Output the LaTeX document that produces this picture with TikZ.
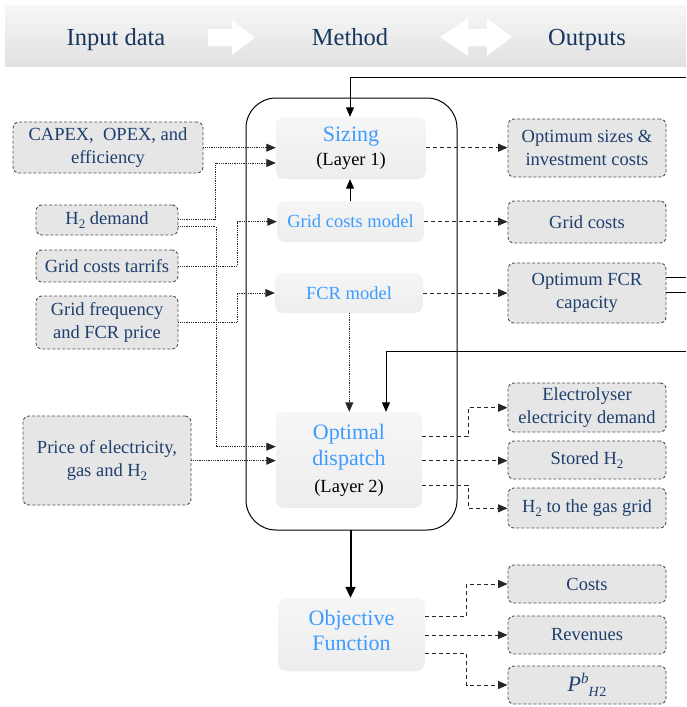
\documentclass[tikz,border=0pt]{standalone}
\usepackage{fontspec}
\setmainfont{Liberation Serif}
\usetikzlibrary{arrows.meta}
\definecolor{navy}{HTML}{1F3F6E}
\definecolor{hdnavy}{HTML}{17375E}
\definecolor{mblue}{HTML}{3C9CFF}
\definecolor{boxfill}{HTML}{E6E6E6}
\definecolor{boxline}{HTML}{505050}
\definecolor{mtop}{HTML}{F6F6F6}
\definecolor{mbot}{HTML}{EDEDED}
\definecolor{hdtop}{HTML}{F7F7F7}
\definecolor{hdbot}{HTML}{E1E1E1}
\newcommand{\hydro}{H\raisebox{-4.5pt}{\fontsize{13}{13}\selectfont 2}}
\tikzset{
  databox/.style={draw=boxline, dash pattern=on 3pt off 2pt, line width=0.9pt,
    fill=boxfill, rounded corners=6pt, text=navy, align=center, inner sep=0pt,
    font=\fontsize{18.5}{23}\selectfont},
  methbox/.style={top color=mtop, bottom color=mbot, rounded corners=8pt,
    align=center, inner sep=0pt, text=mblue},
  midfont/.style={font=\fontsize{18.5}{23}\selectfont},
  hdtext/.style={text=hdnavy, font=\fontsize{24.5}{28}\selectfont, anchor=base},
  tip/.style={-{Triangle[length=9.5pt,width=8pt]}},
  inconn/.style={tip, line width=0.9pt, black!85, dash pattern=on 0.9pt off 0.9pt},
  outconn/.style={tip, line width=1pt, black!85, dash pattern=on 4pt off 3pt},
  solidconn/.style={tip, line width=1pt, black},
}
\begin{document}
\begin{tikzpicture}[x=1pt,y=-1pt]
\useasboundingbox (0,0) rectangle (686,707);
% header
\shade[top color=hdtop, bottom color=hdbot] (5,5) rectangle (686,66);
\fill[white] (208,29) -- (232,29) -- (232,20) -- (255,37.5) -- (232,55) -- (232,46) -- (208,46) -- cycle;
\fill[white] (440,37) -- (468,18) -- (468,29) -- (487,29) -- (487,18) -- (512,37) -- (487,56) -- (487,46) -- (468,46) -- (468,56) -- cycle;
\node[hdtext] (hin) at (116,45.5) {Input data};
\node[hdtext] (hme) at (350,45.5) {Method};
\node[hdtext] (hout) at (587,45.5) {Outputs};

% big method frame
\draw[rounded corners=30pt, line width=1pt] (246,98) rectangle (457,530);
\coordinate (framebot) at (350.5,530);

% input boxes
\node[databox, minimum width=190pt, minimum height=51pt] (capex) at (108,147.5) {CAPEX,\ \ OPEX, and\\efficiency};
\node[databox, minimum width=142pt, minimum height=30pt] (h2d) at (107,220) {\hydro{} demand};
\node[databox, minimum width=142pt, minimum height=32pt] (gct) at (107,266) {Grid costs tarrifs};
\node[databox, minimum width=142pt, minimum height=53pt] (gfr) at (107,322.5) {Grid frequency\\and FCR price};
\node[databox, minimum width=168pt, minimum height=89pt] (price) at (107,460.5) {Price of electricity,\\gas and \hydro};

% method boxes
\node[methbox, minimum width=150pt, minimum height=62pt, font=\fontsize{22}{24}\selectfont] (sizing) at (351,148) {Sizing\\{\color{black}\fontsize{18.5}{23}\selectfont (Layer 1)}};
\node[methbox, midfont, minimum width=147pt, minimum height=41pt] (gcm) at (350.5,221.5) {Grid costs model};
\node[methbox, midfont, minimum width=148pt, minimum height=40pt] (fcr) at (349,293) {FCR model};
\node[methbox, minimum width=146pt, minimum height=96pt, font=\fontsize{22}{26}\selectfont] (disp) at (349,460) {Optimal\\dispatch\\[1pt]{\color{black}\fontsize{18.5}{23}\selectfont (Layer 2)}};
\node[methbox, minimum width=147pt, minimum height=73pt, font=\fontsize{22}{25}\selectfont] (obj) at (351.5,634.5) {Objective\\Function\\[-16pt]\mbox{}};

% output boxes
\node[databox, minimum width=158pt, minimum height=58pt] (os) at (587,148) {Optimum sizes \&\\investment costs};
\node[databox, minimum width=158pt, minimum height=42pt] (gc) at (587,222) {Grid costs};
\node[databox, minimum width=158pt, minimum height=60pt] (ofcr) at (587,293) {Optimum FCR\\capacity};
\node[databox, minimum width=158pt, minimum height=49pt] (eed) at (587,407.5) {Electrolyser\\electricity demand};
\node[databox, minimum width=158pt, minimum height=38pt] (sh2) at (587,460) {Stored \hydro};
\node[databox, minimum width=158pt, minimum height=40pt] (h2g) at (587,508) {\hydro{} to the gas grid};
\node[databox, minimum width=158pt, minimum height=38pt] (costs) at (587,584) {Costs};
\node[databox, minimum width=158pt, minimum height=38pt] (rev) at (587,635) {Revenues};
\node[databox, minimum width=158pt, minimum height=38pt] (pb) at (587,685) {{\fontsize{22}{22}\selectfont\textit{P}}\raisebox{8pt}{\fontsize{15}{15}\selectfont\textit{b}}\raisebox{-5pt}{\fontsize{14}{14}\selectfont\textit{H}2}};

% input connectors
\draw[inconn] (capex.east |- 0,147.7) -- (sizing.west |- 0,147.7);
\draw[inconn] (h2d.east |- 0,219.5) -- (215,219.5) |- (sizing.west |- 0,163);
\draw[inconn] (h2d.east |- 0,226.5) -- (216,226.5) |- (disp.west |- 0,446.7);
\draw[inconn] (gct.east |- 0,266) -- (237,266) |- (gcm.west |- 0,221.7);
\draw[inconn] (gfr.east |- 0,322.7) -- (237,322.7) |- (fcr.west |- 0,293);
\draw[inconn] (price.east |- 0,460.7) -- (disp.west |- 0,460.7);

% output connectors
\draw[outconn] (sizing.east |- 0,147.7) -- (os.west |- 0,147.7);
\draw[outconn] (gcm.east |- 0,221.7) -- (gc.west |- 0,221.7);
\draw[outconn] (fcr.east |- 0,293) -- (ofcr.west |- 0,293);
\draw[outconn] (disp.east |- 0,436.7) -- (468,436.7) |- (eed.west |- 0,407.7);
\draw[outconn] (disp.east |- 0,460.7) -- (sh2.west |- 0,460.7);
\draw[outconn] (disp.east |- 0,485) -- (468,485) |- (h2g.west |- 0,508.3);
\draw[outconn] (obj.east |- 0,616.7) -- (466.7,616.7) |- (costs.west |- 0,584);
\draw[outconn] (obj.east |- 0,635) -- (rev.west |- 0,635);
\draw[outconn] (obj.east |- 0,653) -- (466.7,653) |- (pb.west |- 0,685);

% solid feeds
\coordinate (feedA) at (686,77);
\coordinate (feedB) at (686,351.7);
\coordinate (outA) at (686,277.3);
\coordinate (outB) at (686,292.7);
\draw[solidconn] (feedA) -- (350,77) -- (sizing.north -| 350,0);
\draw[solidconn] (gcm.north -| 350,0) -- (sizing.south -| 350,0);
\draw[inconn] (fcr.south -| 349.3,0) -- (disp.north -| 349.3,0);
\draw[solidconn] (feedB) -- (386,351.7) -- (disp.north -| 386,0);
\draw[line width=1pt] (ofcr.east |- outA) -- (outA);
\draw[line width=1pt] (ofcr.east |- outB) -- (outB);
\draw[-{Triangle[length=11pt,width=10pt]}, line width=2pt] (framebot) -- (obj.north -| framebot);
\end{tikzpicture}
\end{document}
